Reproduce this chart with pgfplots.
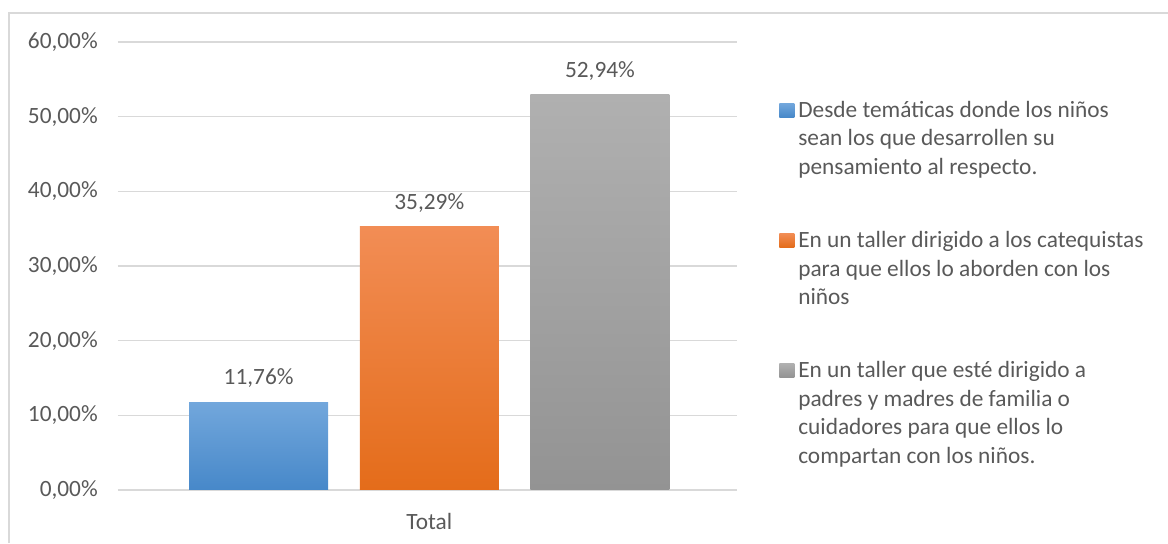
\documentclass[border=0pt]{standalone}
\usepackage{fontspec}
\setmainfont{Carlito}
\usepackage{pgfplots}
\pgfplotsset{compat=1.18}
\definecolor{txt}{HTML}{595959}
\definecolor{gridc}{HTML}{D9D9D9}
\definecolor{blueT}{HTML}{72A7DC}
\definecolor{blueB}{HTML}{4788C9}
\definecolor{orangeT}{HTML}{F28D55}
\definecolor{orangeB}{HTML}{E46C1A}
\definecolor{grayT}{HTML}{B0B0B0}
\definecolor{grayB}{HTML}{939393}
\newcommand{\chartfont}{\fontsize{17.5pt}{21.5pt}\selectfont}
\newcommand{\lentry}[1]{\parbox[t]{270pt}{\raggedright\strut #1\strut}}

\begin{document}
\begin{tikzpicture}
\path[use as bounding box] (0,0) rectangle (876pt,407.25pt);
\draw[gridc, line width=0.8pt] (6.75pt,0) -- (6.75pt,397.5pt) -- (876pt,397.5pt);
\begin{axis}[
  at={(88.5pt,39.75pt)}, anchor=south west,
  scale only axis, width=464.25pt, height=336pt,
  xmin=-1.824, xmax=1.803, ymin=0, ymax=60,
  clip=false,
  axis line style={draw=none},
  major tick length=0pt,
  ymajorgrids, grid style={gridc, line width=1pt},
  ytick={0,10,20,30,40,50,60},
  yticklabels={{0,00\%},{10,00\%},{20,00\%},{30,00\%},{40,00\%},{50,00\%},{60,00\%}},
  xtick={0}, xticklabels={Total},
  tick label style={font=\chartfont, text=txt, inner sep=0pt},
  yticklabel style={anchor=east, xshift=-15pt},
  xticklabel style={anchor=base, yshift=-29.25pt},
  ybar, bar width=104.25pt, bar shift=0pt,
  point meta=explicit symbolic,
  nodes near coords,
  every node near coord/.append style={font=\chartfont, text=txt, anchor=base, inner sep=0pt, yshift=13pt},
  legend image code/.code={\path[#1, draw=none] (0pt,0pt) rectangle (11.25pt,10.5pt);},
  legend style={at={(axis description cs:1.0679,0.8773)}, anchor=north west,
    draw=none, fill=none, inner sep=0pt, row sep=81pt, column sep=3pt,
    font=\chartfont, text=txt, nodes={inner sep=0pt},
    cells={anchor=base west}},
]
\addplot[draw=none, top color=blueT, bottom color=blueB] coordinates {(-1,11.76) [11,76\%]};
\addlegendentry{\lentry{Desde temáticas donde los niños\\sean los que desarrollen su\\pensamiento al respecto.}}
\addplot[draw=none, top color=orangeT, bottom color=orangeB] coordinates {(0,35.29) [35,29\%]};
\addlegendentry{\lentry{En un taller dirigido a los catequistas\\para que ellos lo aborden con los\\niños}}
\addplot[draw=none, top color=grayT, bottom color=grayB] coordinates {(1,52.94) [52,94\%]};
\addlegendentry{\lentry{En un taller que esté dirigido a\\padres y madres de familia o\\cuidadores para que ellos lo\\compartan con los niños.}}
\end{axis}
\end{tikzpicture}
\end{document}
